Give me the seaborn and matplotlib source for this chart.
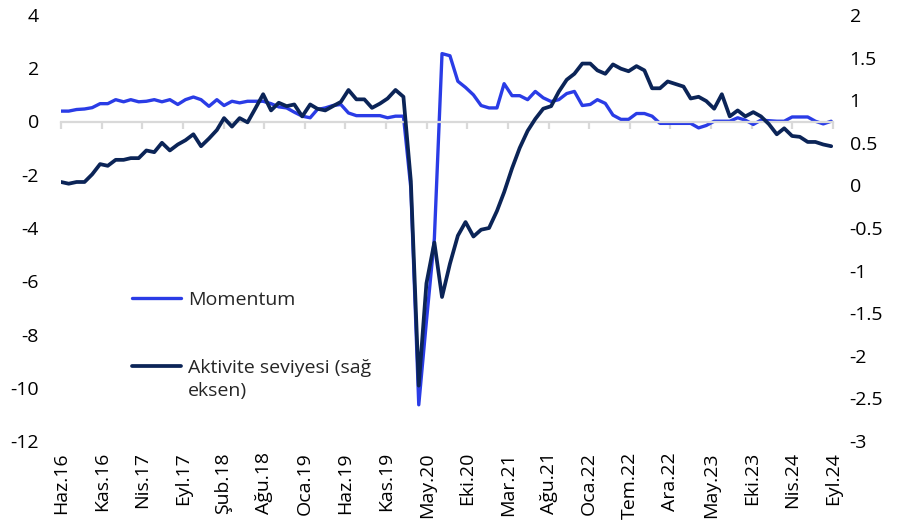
import numpy as np
import pandas as pd
import matplotlib
matplotlib.use("Agg")
import matplotlib.pyplot as plt
import seaborn as sns

# ---- data -------------------------------------------------------------
dates = pd.date_range("2016-06-01", periods=100, freq="MS")

momentum = [0.39, 0.39, 0.45, 0.47, 0.52, 0.67, 0.67, 0.82, 0.74, 0.82,
            0.74, 0.76, 0.82, 0.74, 0.82, 0.64, 0.82, 0.92, 0.82, 0.57,
            0.82, 0.60, 0.76, 0.70, 0.76, 0.76, 0.76, 0.67, 0.55, 0.51,
            0.35, 0.20, 0.14, 0.45, 0.51, 0.60, 0.64, 0.32, 0.22, 0.22,
            0.22, 0.22, 0.14, 0.20, 0.20, -2.50, -10.64, -7.50, -4.40, 2.55,
            2.47, 1.51, 1.28, 1.00, 0.60, 0.51, 0.51, 1.42, 0.97, 0.97,
            0.82, 1.13, 0.89, 0.75, 0.82, 1.05, 1.13, 0.60, 0.64, 0.82,
            0.68, 0.24, 0.08, 0.08, 0.30, 0.30, 0.20, -0.07, -0.07, -0.07,
            -0.07, -0.07, -0.24, -0.15, 0.01, 0.01, 0.01, 0.14, 0.05, -0.11,
            0.05, 0.03, 0.01, 0.01, 0.17, 0.17, 0.17, 0.01, -0.09, 0.01]

activity = [0.04, 0.02, 0.04, 0.04, 0.13, 0.25, 0.23, 0.30, 0.30, 0.32,
            0.32, 0.41, 0.39, 0.50, 0.41, 0.48, 0.53, 0.60, 0.46, 0.55,
            0.65, 0.79, 0.69, 0.79, 0.74, 0.90, 1.07, 0.88, 0.97, 0.93,
            0.95, 0.81, 0.95, 0.90, 0.88, 0.93, 0.98, 1.12, 1.01, 1.01,
            0.91, 0.96, 1.02, 1.12, 1.04, 0.05, -2.35, -1.15, -0.67, -1.31,
            -0.92, -0.59, -0.43, -0.60, -0.52, -0.50, -0.30, -0.08, 0.20, 0.44,
            0.64, 0.78, 0.90, 0.93, 1.10, 1.24, 1.31, 1.43, 1.43, 1.35,
            1.31, 1.42, 1.37, 1.34, 1.40, 1.35, 1.14, 1.14, 1.22, 1.19,
            1.16, 1.02, 1.04, 0.99, 0.90, 1.07, 0.81, 0.88, 0.81, 0.86,
            0.81, 0.72, 0.60, 0.67, 0.58, 0.57, 0.51, 0.51, 0.48, 0.46]

tick_labels = ["Haz.16", "Kas.16", "Nis.17", "Eyl.17", "Şub.18", "Ağu.18",
               "Oca.19", "Haz.19", "Kas.19", "May.20", "Eki.20", "Mar.21",
               "Ağu.21", "Oca.22", "Tem.22", "Ara.22", "May.23", "Eki.23",
               "Nis.24", "Eyl.24"]
left_ticks = [4, 2, 0, -2, -4, -6, -8, -10, -12]
right_ticks = [2, 1.5, 1, 0.5, 0, -0.5, -1, -1.5, -2, -2.5, -3]

label_momentum = "Momentum"
label_activity = "Aktivite seviyesi (sağ\neksen)"

# ---- style --------------------------------------------------------------
sns.set_theme(style="white")
plt.rcParams["font.family"] = ["Open Sans", "DejaVu Sans"]
plt.rcParams["axes.unicode_minus"] = False

BLUE = "#2A3CE6"
NAVY = "#0B2457"
GRID = "#D9D9D9"
FS = 14

df = pd.DataFrame({"date": dates, "momentum": momentum, "activity": activity})

fig = plt.figure(figsize=(8.97, 5.29), dpi=100)
ax = fig.add_axes([61 / 897, 1 - 441 / 529, (833 - 61) / 897, (441 - 15) / 529])
ax2 = ax.twinx()

sns.lineplot(data=df, x="date", y="momentum", ax=ax, color=BLUE, linewidth=2.4)
sns.lineplot(data=df, x="date", y="activity", ax=ax2, color=NAVY, linewidth=2.7)

# x axis: date axis with 159-day major unit
tick_dates = [dates[0] + pd.Timedelta(days=159 * k) for k in range(len(tick_labels))]
ax.set_xlim(tick_dates[0], tick_dates[-1])
ax.set_xticks(tick_dates, tick_labels)

for a in (ax, ax2):
    for s in a.spines.values():
        s.set_visible(False)
    a.set_xlabel("")
    a.set_ylabel("")

ax.spines["bottom"].set_visible(True)
ax.spines["bottom"].set_position(("data", 0))
ax.spines["bottom"].set_color(GRID)
ax.spines["bottom"].set_linewidth(1.6)
ax.tick_params(axis="x", direction="out", length=5, width=1.6, color=GRID,
               labelbottom=False, bottom=True)

ax2.xaxis.set_visible(True)
ax2.tick_params(axis="x", length=0, pad=8, labelbottom=True, labelrotation=90,
                labelsize=FS, labelcolor="black")

ax.set_ylim(-12, 4)
ax.set_yticks(left_ticks, [f"{v:g}" for v in left_ticks])
ax.tick_params(axis="y", length=0, pad=16, labelsize=FS, labelcolor="black")

ax2.set_ylim(-3, 2)
ax2.set_yticks(right_ticks, [f"{v:g}" for v in right_ticks])
ax2.tick_params(axis="y", length=0, pad=12, labelsize=FS, labelcolor="black")

ax.grid(False)
ax2.grid(False)

# legend
handles = [ax.get_lines()[0], ax2.get_lines()[0]]
leg = ax2.legend(handles, [label_momentum, label_activity], loc="upper left",
                 bbox_to_anchor=(0.092, 0.352), frameon=False, fontsize=FS,
                 handlelength=2.5, handletextpad=0.37, labelspacing=2.56,
                 borderpad=0, borderaxespad=0)
leg.get_texts()[1].set_linespacing(1.4)
hl = leg.get_lines()[1]
hl.set_ydata(np.asarray(hl.get_ydata()) + 0.7 * FS)

fig.savefig("out.png", dpi=100)
